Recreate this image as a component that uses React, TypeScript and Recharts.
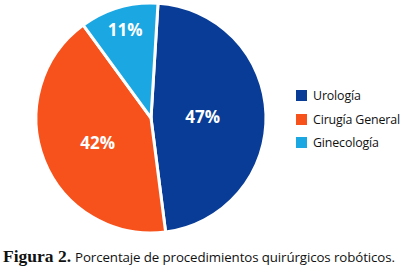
import { PieChart, Pie, Cell, Legend } from 'recharts'

const categories = ['Urología', 'Cirugía General', 'Ginecología']
const percentages = [47, 42, 11]
const colors = ['#083c96', '#f7521c', '#1ba7e2']
// label distance from the centre, as a share of the radius
const labelRadius = [0.45, 0.5, 0.8]

const data = categories.map((name, i) => ({ name, value: percentages[i] }))

const RADIAN = Math.PI / 180

function renderLabel(props: any) {
  const { cx, cy, midAngle, outerRadius, index, value } = props
  const r = outerRadius * labelRadius[index]
  const x = cx + r * Math.cos(-midAngle * RADIAN)
  const y = cy + r * Math.sin(-midAngle * RADIAN) + (index === 1 ? 3 : 0)
  return (
    <text
      x={x}
      y={y}
      fill="#fff"
      textAnchor="middle"
      dominantBaseline="central"
      fontFamily="'Open Sans', sans-serif"
      fontWeight={700}
      fontSize={17}
    >
      {value}%
    </text>
  )
}

function LegendBox({ payload }: any) {
  return (
    <div style={{ fontFamily: "'Open Sans', sans-serif", fontSize: 12.4, letterSpacing: -0.15, color: '#111', whiteSpace: 'nowrap' }}>
      {(payload || []).map((p: any, i: number) => (
        <div key={i} style={{ display: 'flex', alignItems: 'center', height: 23.5 }}>
          <span style={{ width: 11, height: 11, background: colors[i], marginRight: 6, display: 'inline-block', flex: 'none' }} />
          <span>{categories[i]}</span>
        </div>
      ))}
    </div>
  )
}

export default function App() {
  return (
    <div style={{ position: 'fixed', left: 0, top: 0, width: 400, height: 278, background: '#fff' }}>
      <PieChart width={400} height={240} margin={{ top: 0, right: 0, bottom: 0, left: 0 }}>
        <Pie
          data={data}
          dataKey="value"
          nameKey="name"
          cx={151}
          cy={118}
          outerRadius={115}
          startAngle={86.5}
          endAngle={-273.5}
          stroke="#fff"
          strokeWidth={3}
          label={renderLabel}
          labelLine={false}
          isAnimationActive={false}
        >
          {data.map((d, i) => (
            <Cell key={d.name} fill={colors[i]} />
          ))}
        </Pie>
        <Legend
          layout="vertical"
          content={<LegendBox />}
          wrapperStyle={{ position: 'absolute', left: 296, top: 84, width: 104 }}
        />
      </PieChart>
      <div style={{ position: 'absolute', left: 3, top: 246, whiteSpace: 'nowrap', color: '#111' }}>
        <span style={{ fontFamily: "'Liberation Serif', serif", fontWeight: 700, fontSize: 17.5 }}>Figura 2.</span>{' '}
        <span style={{ fontFamily: "'Open Sans', sans-serif", fontSize: 13.3, letterSpacing: -0.1 }}>
          Porcentaje de procedimientos quirúrgicos robóticos.
        </span>
      </div>
    </div>
  )
}
